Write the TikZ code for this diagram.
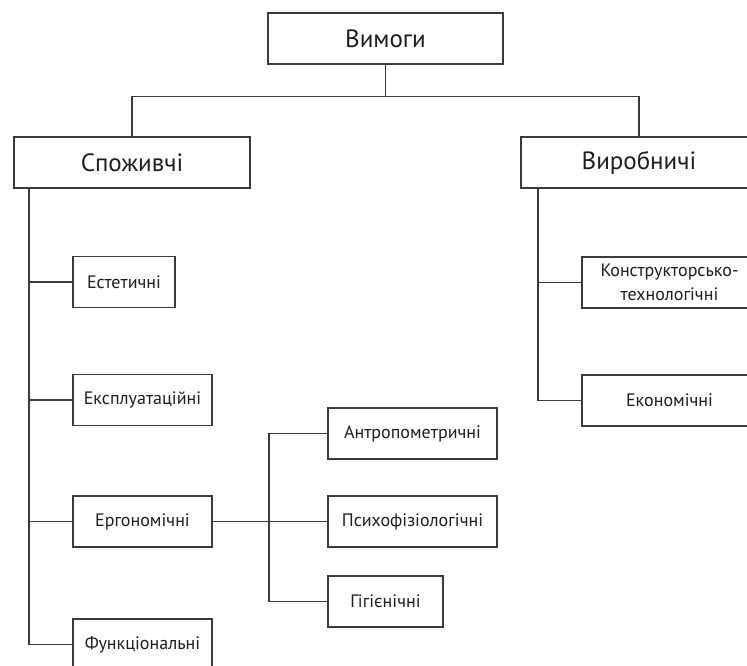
\documentclass[tikz,border=0pt]{standalone}
\usepackage{fontspec}
\setmainfont{PT Sans}
\definecolor{ligne}{HTML}{3A3A3A}
\definecolor{texte}{HTML}{1E1E1E}
\tikzset{
	boite/.style={draw=ligne,line width=1.5pt,fill=white,text=texte,inner sep=2pt,minimum height=51,align=center,font=\fontsize{18}{21}\selectfont},
	grande/.style={boite,font=\fontsize{25}{28}\selectfont,minimum width=236},
	lien/.style={draw=ligne,line width=1.5pt}
}
\begin{document}
\begin{tikzpicture}[x=1pt,y=-1pt]% une unité = un pixel de l'image
		\useasboundingbox (0,0) rectangle (747,666);
		\node[grande,minimum width=235] (vym) at (385.5,38.5) {Вимоги};
		\node[grande] (spoz) at (132,162.5) {Споживчі};
		\node[grande] (vyrob) at (639,162.5) {Виробничі};
		
		\node[boite,minimum width=102] (est) at (124,282) {Естетичні};
		\node[boite,minimum width=139] (ekspl) at (142.5,400) {Експлуатаційні};
		\node[boite,minimum width=139] (erg) at (142.5,521.5) {Ергономічні};
		\node[boite,minimum width=139] (funk) at (142.5,644.5) {Функціональні};
		
		\node[boite,minimum width=169] (antr) at (412.5,433.5) {Антропометричні};
		\node[boite,minimum width=169] (psych) at (412.5,521.5) {Психофізіологічні};
		\node[boite,minimum width=115] (gig) at (385.5,601.5) {Гігієнічні};
		
		\node[boite,minimum width=175,inner sep=0pt,font=\fontsize{18}{24}\selectfont] (konstr) at (669.5,282.5) {Конструкторсько-\\технологічні};
		\node[boite,minimum width=175] (ekon) at (669.5,400.5) {Економічні};
		
		\coordinate (sp) at (29,188);
		\coordinate (vp) at (538,188);
		\coordinate (ep) at (269,0);
		
		\draw[lien] (vym.south) -- ++(0,32) -| (spoz.north);
		\draw[lien] (vym.south) ++(0,32) -| (vyrob.north);
		
		\draw[lien] (sp) |- (funk.west);
		\foreach \b in {est,ekspl,erg}{
		\draw[lien] (sp |- \b.west) -- (\b.west);}
		
		\draw[lien] (vp) |- (ekon.west);
		\draw[lien] (vp |- konstr.west) -- (konstr.west);
		
		\draw[lien] (erg.east) -- (psych.west);
		\draw[lien] (antr.west) -| (ep |- gig.west) -- (gig.west);
	\end{tikzpicture}
\end{document}
